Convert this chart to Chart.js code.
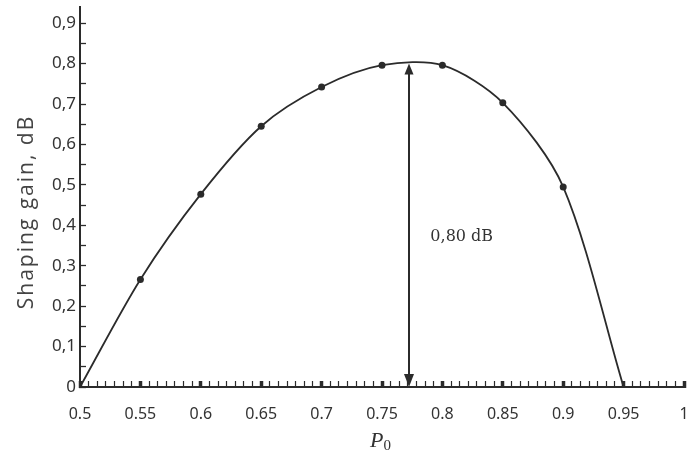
<!DOCTYPE html>
<html>
<head>
<meta charset="utf-8">
<script src="https://cdn.jsdelivr.net/npm/chart.js@4.4.1/dist/chart.umd.min.js"></script>
<style>
  body { margin: 0; background: #fff; }
</style>
</head>
<body>
<canvas id="gainChart" width="688" height="456"></canvas>
<script>
// marked points on the curve
const markerP0 = [0.55, 0.6, 0.65, 0.7, 0.75, 0.8, 0.85, 0.9];
const markerGain = [0.266, 0.477, 0.645, 0.742, 0.796, 0.796, 0.703, 0.495];

// curve through the points, plus the two zero ends
const curveP0 = [0.5, 0.55, 0.6, 0.65, 0.7, 0.75, 0.8, 0.85, 0.9, 0.95];
const curveGain = [0, 0.266, 0.477, 0.645, 0.742, 0.796, 0.796, 0.703, 0.495, 0];

const xTicks = [0.5, 0.55, 0.6, 0.65, 0.7, 0.75, 0.8, 0.85, 0.9, 0.95, 1];
const xTickLabels = ["0.5", "0.55", "0.6", "0.65", "0.7", "0.75", "0.8", "0.85", "0.9", "0.95", "1"];
const yTicks = [0, 0.1, 0.2, 0.3, 0.4, 0.5, 0.6, 0.7, 0.8, 0.9];
const yTickLabels = ["0", "0,1", "0,2", "0,3", "0,4", "0,5", "0,6", "0,7", "0,8", "0,9"];

// the max-gain arrow
const peakP0 = 0.772;
const peakGain = 0.80;
const peakLabel = "0,80 dB";
const peakLabelP0 = 0.816;
const peakLabelGain = 0.372;

const yTitle = "Shaping gain, dB";
const xTitle = "P";
const xTitleSub = "0";

const ink = "#2b2b2b";

function withMinors(majors, parts) {
  let out = [];
  majors.forEach((v, i) => {
    out.push({ value: v, major: true });
    if (i < majors.length - 1) {
      let step = (majors[i + 1] - v) / parts;
      for (let j = 1; j < parts; j++) {
        out.push({ value: v + j * step, major: false });
      }
    }
  });
  return out;
}

const extras = {
  id: "extras",
  afterDatasetsDraw(chart) {
    const ctx = chart.ctx;
    const xs = chart.scales.x;
    const ys = chart.scales.y;
    const area = chart.chartArea;

    const px = Math.round(xs.getPixelForValue(peakP0));
    const top = ys.getPixelForValue(peakGain);
    const bottom = ys.getPixelForValue(0);

    ctx.save();
    ctx.strokeStyle = ink;
    ctx.fillStyle = ink;
    ctx.lineWidth = 2;
    ctx.beginPath();
    ctx.moveTo(px, top + 8);
    ctx.lineTo(px, bottom - 10);
    ctx.stroke();

    ctx.beginPath();
    ctx.moveTo(px, top);
    ctx.lineTo(px - 4.5, top + 11);
    ctx.lineTo(px + 4.5, top + 11);
    ctx.closePath();
    ctx.fill();

    ctx.beginPath();
    ctx.moveTo(px, bottom);
    ctx.lineTo(px - 5, bottom - 13);
    ctx.lineTo(px + 5, bottom - 13);
    ctx.closePath();
    ctx.fill();

    ctx.font = '16px "DejaVu Serif"';
    ctx.textAlign = "center";
    ctx.textBaseline = "middle";
    ctx.fillStyle = "#333";
    ctx.fillText(peakLabel, xs.getPixelForValue(peakLabelP0), ys.getPixelForValue(peakLabelGain));

    // y title
    ctx.save();
    ctx.translate(27, 212);
    ctx.rotate(-Math.PI / 2);
    ctx.font = '21px "Open Sans"';
    ctx.letterSpacing = "2px";
    ctx.fillStyle = "#444";
    ctx.fillText(yTitle, 0, 0);
    ctx.restore();

    // x title P0
    ctx.textAlign = "left";
    ctx.textBaseline = "alphabetic";
    ctx.fillStyle = "#333";
    ctx.font = 'italic 22px "Liberation Serif"';
    let cx = (area.left + area.right) / 2 - 12;
    ctx.fillText(xTitle, cx, 447);
    let w = ctx.measureText(xTitle).width;
    ctx.font = '15px "Liberation Serif"';
    ctx.fillText(xTitleSub, cx + w, 450);
    ctx.restore();
  }
};

new Chart(document.getElementById("gainChart"), {
  type: "scatter",
  data: {
    datasets: [
      {
        label: "curve",
        data: curveP0.map((p, i) => ({ x: p, y: curveGain[i] })),
        showLine: true,
        tension: 0.3,
        borderColor: ink,
        borderWidth: 1.8,
        pointRadius: 0,
      },
      {
        label: "points",
        data: markerP0.map((p, i) => ({ x: p, y: markerGain[i] })),
        showLine: false,
        pointRadius: 3.5,
        pointBackgroundColor: ink,
        pointBorderColor: ink,
        pointBorderWidth: 0,
      },
    ],
  },
  options: {
    responsive: false,
    animation: false,
    layout: { padding: { top: 7, right: 0, bottom: 0, left: 0 } },
    plugins: {
      legend: { display: false },
      tooltip: { enabled: false },
    },
    scales: {
      x: {
        type: "linear",
        min: 0.5,
        max: 1,
        afterBuildTicks: (s) => { s.ticks = withMinors(xTicks, 7); },
        afterFit: (s) => { s.height = 69; s.paddingLeft = 0; s.paddingRight = 0; },
        border: { color: ink, width: 2 },
        grid: {
          drawOnChartArea: false,
          tickLength: -6,
          tickColor: ink,
          tickWidth: (c) => (c.tick && c.tick.major ? 3.5 : 1.2),
        },
        ticks: {
          autoSkip: false,
          maxRotation: 0,
          padding: 24,
          color: "#333",
          font: { family: '"Noto Sans"', size: 16 },
          callback: (value, index, ticks) => ticks[index].major ? xTickLabels[xTicks.indexOf(value)] : "",
        },
      },
      y: {
        min: 0,
        max: 0.94,
        afterBuildTicks: (s) => { s.ticks = withMinors(yTicks, 2); },
        afterFit: (s) => { s.width = 80; s.paddingTop = 0; s.paddingBottom = 0; },
        border: { color: ink, width: 2 },
        grid: {
          drawOnChartArea: false,
          tickLength: -6,
          tickColor: ink,
          tickWidth: 1.3,
        },
        ticks: {
          autoSkip: false,
          padding: 10,
          color: "#333",
          font: { family: '"Noto Sans"', size: 17 },
          callback: (value, index, ticks) => ticks[index].major ? yTickLabels[yTicks.indexOf(value)] : "",
        },
      },
    },
  },
  plugins: [extras],
});
</script>
</body>
</html>
